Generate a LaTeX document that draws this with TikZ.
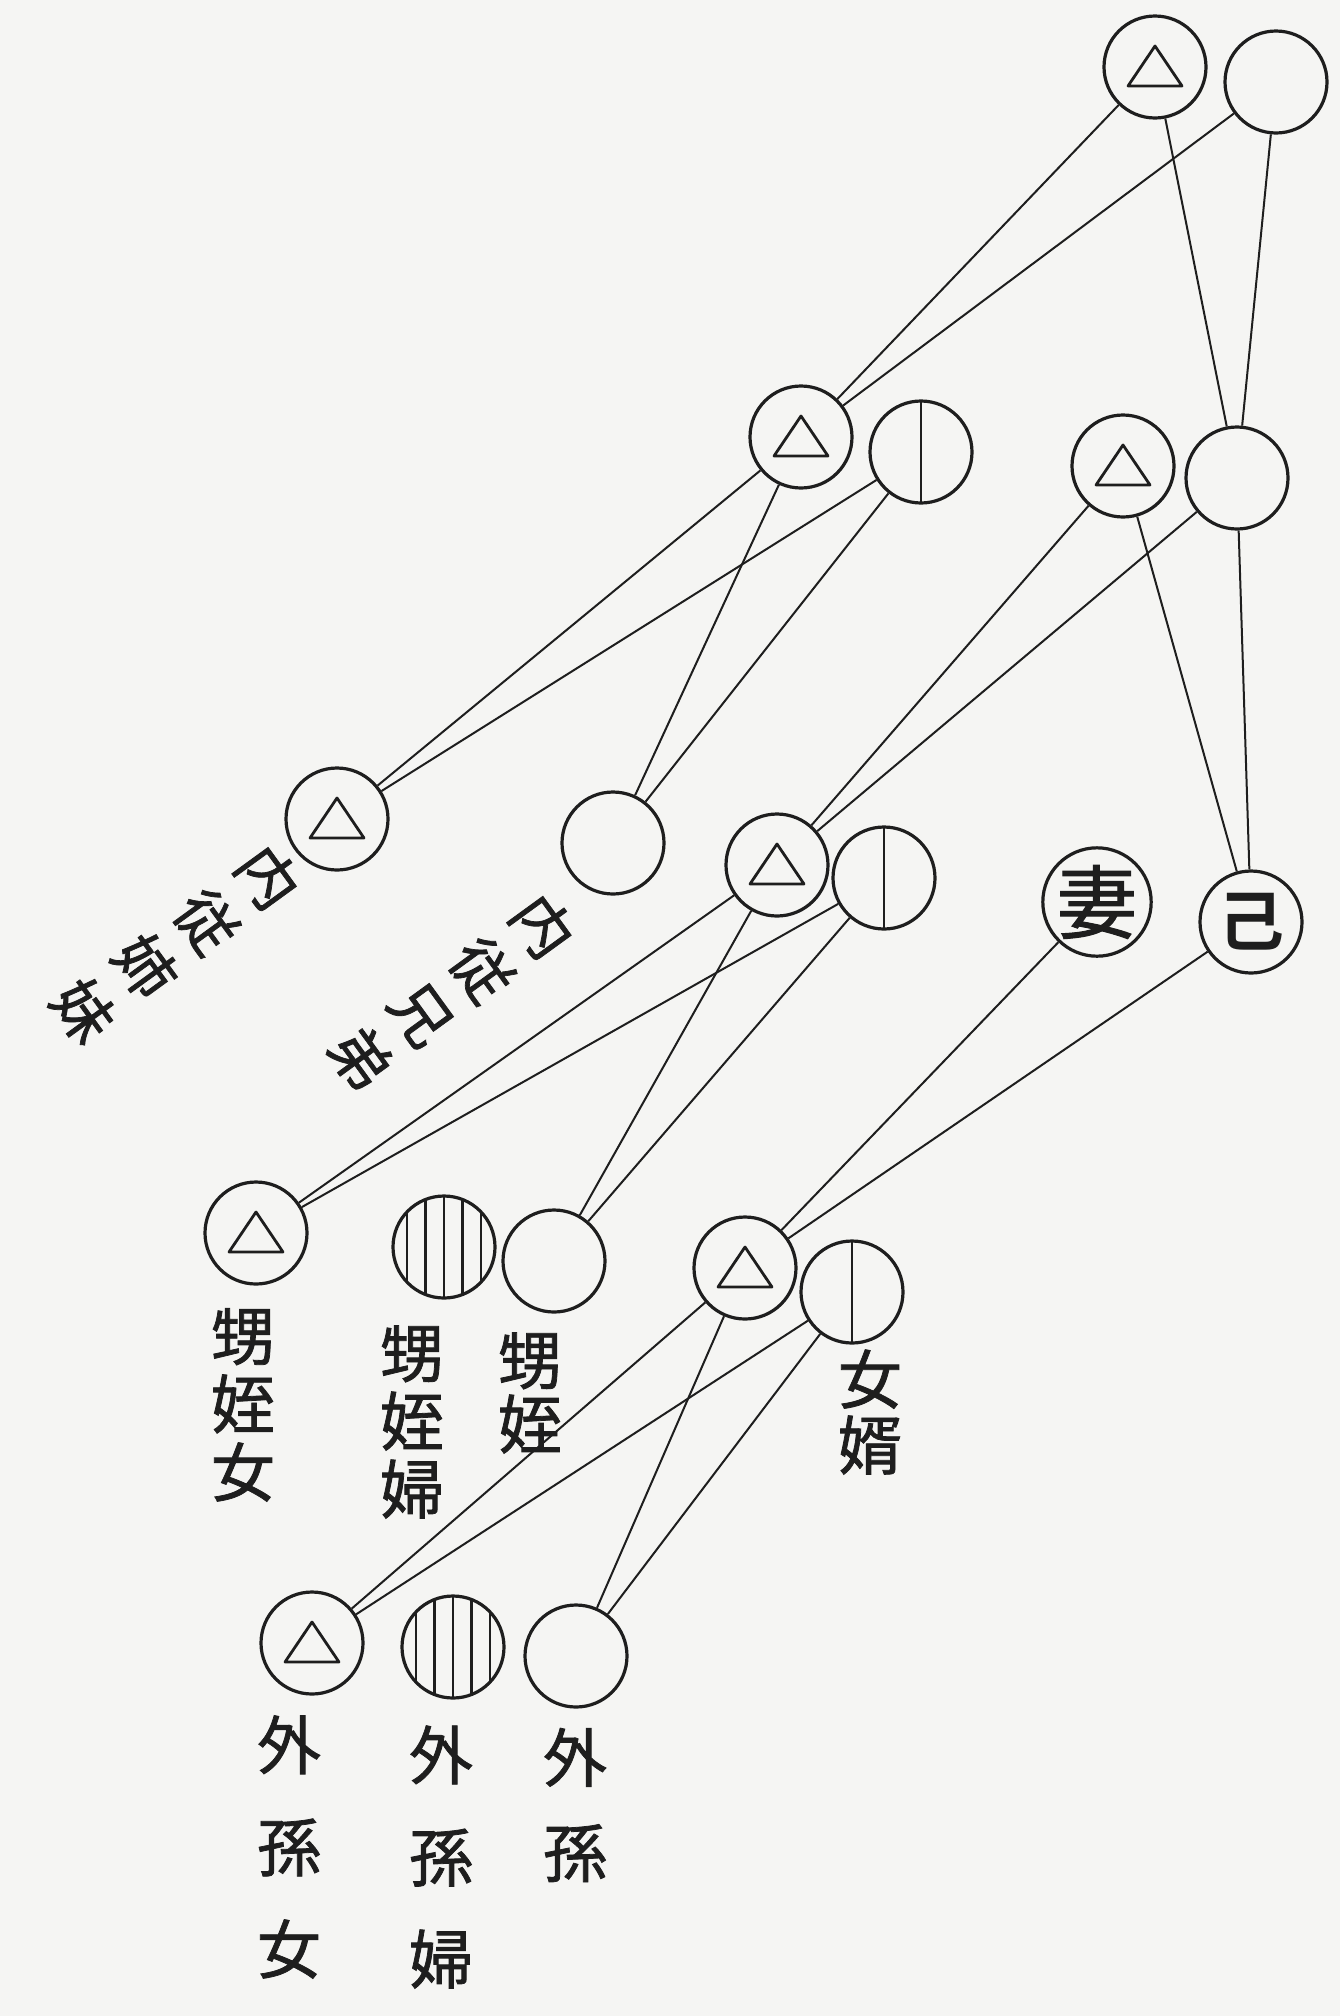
\documentclass[tikz,border=0pt]{standalone}
\usepackage{fontspec}
\newfontfamily\cjk[FakeBold=1.2]{Noto Sans CJK JP}
\newfontfamily\cjkb{Noto Sans CJK JP Bold}
\definecolor{paper}{RGB}{245,245,243}
\definecolor{ink}{RGB}{30,30,30}
\begin{document}
\begin{tikzpicture}[x=1pt,y=-1pt,
  pers/.style={circle, draw=ink, line width=3.2pt, minimum size=102pt, inner sep=0pt},
  fem/.style={pers, path picture={\draw[ink, line width=2.8pt, line join=round]
      ([yshift=21pt]path picture bounding box.center) -- ++(-27,40) -- ++(54,0) -- cycle;}},
  male/.style={pers},
  inlaw/.style={pers, path picture={\draw[ink, line width=2.8pt]
      (path picture bounding box.north) -- (path picture bounding box.south);}},
  hatch/.style={pers, path picture={\foreach \d in {-37,-18.5,0,18.5,37}
      \draw[ink, line width=2.4pt] ([xshift=\d pt]path picture bounding box.north) -- ([xshift=\d pt]path picture bounding box.south);}},
  link/.style={draw=ink, line width=2pt},
  lab/.style={text=ink, font=\cjk\fontsize{64}{68}\selectfont, align=center, inner sep=0pt},
]
\fill[paper] (0,0) rectangle (1340,2016);
\useasboundingbox (0,0) rectangle (1340,2016);

% row 1
\node[fem]  (A) at (1155,67) {};
\node[male] (B) at (1276,82) {};
% row 2
\node[fem]   (C) at (801,437) {};
\node[inlaw] (D) at (921,452) {};
\node[fem]   (E) at (1123,466) {};
\node[male]  (F) at (1237,478) {};
% row 3
\node[fem]   (G) at (337,819) {};
\node[male]  (H) at (613,843) {};
\node[fem]   (I) at (777,865) {};
\node[inlaw] (J) at (884,878) {};
\node[pers, font=\cjk\fontsize{80}{80}\selectfont, text=ink] (K) at (1097,902) {妻};
\node[pers, font=\cjkb\fontsize{66}{66}\selectfont, text=ink] (L) at (1251,922) {己};
% row 4
\node[fem]   (M) at (256,1233) {};
\node[hatch] (N) at (444,1247) {};
\node[male]  (O) at (554,1261) {};
\node[fem]   (P) at (745,1268) {};
\node[inlaw] (Q) at (852,1292) {};
% row 5
\node[fem]   (R) at (312,1643) {};
\node[hatch] (S) at (453,1647) {};
\node[male]  (T) at (576,1656) {};

% connectors
\draw[link] (A) -- (C);  \draw[link] (B) -- (C);
\draw[link] (A) -- (F);  \draw[link] (B) -- (F);
\draw[link] (C) -- (G);  \draw[link] (D) -- (G);
\draw[link] (C) -- (H);  \draw[link] (D) -- (H);
\draw[link] (E) -- (I);  \draw[link] (F) -- (I);
\draw[link] (E) -- (L);  \draw[link] (F) -- (L);
\draw[link] (I) -- (M);  \draw[link] (J) -- (M);
\draw[link] (I) -- (O);  \draw[link] (J) -- (O);
\draw[link] (K) -- (P);  \draw[link] (L) -- (P);
\draw[link] (P) -- (R);  \draw[link] (Q) -- (R);
\draw[link] (P) -- (T);  \draw[link] (Q) -- (T);

% labels
\node[lab, rotate=-54, font=\cjk\fontsize{60}{76}\selectfont] (lG) at (176,944) {内\\従\\姉\\妹};
\node[lab, rotate=-54, font=\cjk\fontsize{60}{75}\selectfont] (lH) at (452,992) {内\\従\\兄\\弟};
\node[lab] (lM) at (243,1405) {甥\\姪\\女};
\node[lab] (lN) at (412,1422) {甥\\姪\\婦};
\node[lab, font=\cjk\fontsize{64}{64}\selectfont] (lO) at (530,1393) {甥\\姪};
\node[lab, font=\cjk\fontsize{64}{66}\selectfont] (lQ) at (870,1412) {女\\婿};
\node[lab, font=\cjk\fontsize{64}{102}\selectfont] (lR) at (289,1847) {外\\孫\\女};
\node[lab, font=\cjk\fontsize{64}{102}\selectfont] (lS) at (441,1857) {外\\孫\\婦};
\node[lab, font=\cjk\fontsize{64}{95}\selectfont] (lT) at (575,1805) {外\\孫};
\end{tikzpicture}
\end{document}
